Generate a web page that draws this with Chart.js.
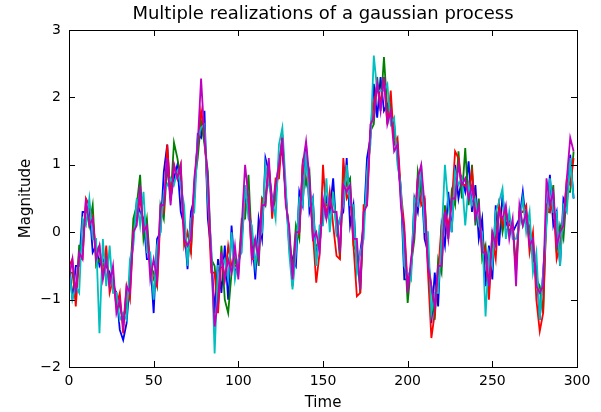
<!DOCTYPE html>
<html>
<head>
<meta charset="utf-8">
<script src="https://cdn.jsdelivr.net/npm/chart.js@4/dist/chart.umd.min.js"></script>
<style>
  html, body { margin: 0; padding: 0; background: #fff; }
  #wrap { width: 601px; height: 412px; }
</style>
</head>
<body>
<div id="wrap"><canvas id="gpChart" width="601" height="412"></canvas></div>
<script>
const timeStep = 2;
const chartTitle = 'Multiple realizations of a gaussian process';
const xTicks = [0, 50, 100, 150, 200, 250, 300];
const yTicks = [-2, -1, 0, 1, 2, 3];

const blueRun = [
  -0.4,-1.0,-0.5,-0.5,0.3,0.3,0.4,-0.3,-0.2,-0.5,
  -0.4,-0.5,-0.6,-0.8,-0.9,-1.45,-1.6,-1.35,-0.7,-0.1,
  0.45,0.3,0.2,-0.4,-0.4,-1.2,-0.1,0.0,0.9,1.3,
  0.5,0.8,1.0,0.3,0.1,-0.55,0.3,0.5,1.45,1.4,
  1.8,0.2,-0.3,-1.2,-0.4,-0.9,-0.2,-1.0,0.1,-0.6,
  -0.5,-0.1,0.5,0.4,0.0,-0.7,0.2,-0.1,1.1,0.9,
  0.5,0.5,1.1,1.2,0.6,-0.2,-0.4,-0.5,0.6,0.4,
  1.3,0.3,0.5,-0.4,0.0,0.2,0.5,0.3,0.8,0.0,
  0.2,0.3,1.1,0.1,0.4,-0.5,-0.3,0.1,1.1,1.4,
  2.2,1.7,2.3,1.8,1.9,1.8,1.6,1.1,0.6,-0.7,
  -0.7,-0.6,0.5,0.3,0.8,-0.1,-0.3,-1.35,-0.6,-1.1,
  0.1,-0.2,0.6,0.0,1.0,0.5,0.8,0.6,1.05,0.3,
  0.7,-0.1,0.2,-0.8,-0.2,-0.7,0.4,-0.2,0.55,0.1,
  0.2,0.0,0.1,0.2,0.6,0.1,0.1,-0.4,-0.5,-1.3,
  -0.6,0.2,0.85,0.1,0.3,-0.5,0.5,0.4,1.15,0.5
];
const greenRun = [
  -0.6,-0.6,-1.0,-0.2,-0.2,0.4,0.1,0.4,-0.5,-0.4,
  -0.5,-0.4,-0.7,-0.7,-1.0,-1.1,-1.3,-1.1,-0.7,0.2,
  0.4,0.85,-0.1,0.2,-0.5,-0.6,-0.8,0.4,0.2,1.0,
  0.5,1.33,1.1,0.8,0.0,-0.2,-0.3,0.7,1.1,1.65,
  1.3,0.9,-0.4,-0.5,-1.1,-0.2,-1.0,-1.2,-0.6,-0.4,
  -0.6,0.2,0.2,0.85,-0.2,-0.1,-0.5,0.5,0.4,1.0,
  0.3,0.5,1.0,1.4,0.5,0.0,-0.6,0.1,-0.1,1.0,
  0.7,0.9,-0.1,-0.2,-0.2,0.4,0.4,0.4,0.5,0.2,
  -0.4,0.9,0.7,0.8,-0.2,-0.3,-0.9,0.2,0.6,1.5,
  1.6,2.3,1.8,2.6,1.8,1.9,1.4,1.3,0.5,-0.1,
  -1.05,-0.5,-0.1,0.9,0.6,0.5,-0.4,-0.8,-1.3,-0.4,
  -0.6,0.4,-0.1,0.6,0.4,1.2,0.5,1.25,0.4,1.0,
  0.1,0.5,-0.4,-0.2,-0.9,0.0,-0.1,0.4,0.0,0.3,
  0.0,0.1,-0.5,0.3,0.1,0.3,0.0,-0.2,-0.7,-0.8,
  -1.2,0.3,0.3,0.7,-0.3,0.1,-0.1,0.6,0.6,1.2
];
const redRun = [
  -0.5,-0.4,-1.1,-0.4,-0.4,0.5,0.4,0.2,-0.3,-0.2,
  -0.7,-0.2,-0.9,-0.7,-1.1,-0.9,-1.5,-0.8,-1.0,0.0,
  0.2,0.5,0.1,0.0,-0.5,-0.7,-0.8,0.2,0.3,1.3,
  0.5,1.0,0.8,1.0,-0.2,0.0,-0.3,0.7,1.3,1.8,
  1.5,0.5,-0.6,-0.6,-1.2,-0.4,-0.7,-0.2,-0.5,-0.5,
  -0.5,0.0,0.4,0.5,-0.4,-0.4,-0.3,0.5,0.5,1.0,
  0.2,0.8,0.8,1.45,0.5,0.0,-0.8,-0.1,0.0,1.0,
  0.8,0.7,0.0,-0.75,-0.3,1.0,0.2,0.6,0.1,-0.35,
  -0.4,1.1,0.5,0.6,-0.2,-0.95,-0.9,0.4,0.4,1.5,
  1.9,2.2,1.9,2.3,1.6,2.1,1.3,1.4,0.6,0.1,
  -0.8,-0.5,0.1,0.8,0.4,0.5,-0.6,-1.57,-1.2,-0.6,
  0.1,0.3,0.1,0.4,1.2,1.1,0.7,0.7,0.6,0.9,
  0.3,0.2,-0.1,-0.3,-1.0,-0.1,-0.4,0.4,0.1,0.3,
  0.1,0.1,-0.6,0.3,0.3,0.4,-0.3,0.0,-1.0,-1.47,
  -1.2,0.4,0.3,0.5,-0.4,-0.2,0.2,0.8,0.7,1.1
];
const cyanRun = [
  -0.5,-1.0,-0.8,-0.9,0.2,0.1,0.5,-0.1,-0.1,-1.5,
  -0.1,-0.8,-0.2,-0.9,-0.9,-1.3,-1.2,-1.3,-0.4,-0.2,
  0.5,0.1,0.6,-0.3,-0.3,-1.0,-0.2,0.0,0.6,0.7,
  0.8,0.7,0.9,0.7,0.4,-0.5,0.2,0.3,1.4,1.55,
  1.6,0.5,-0.2,-1.8,-0.5,-0.5,-0.4,-0.7,0.0,-0.7,
  -0.4,-0.3,0.7,0.2,0.1,-0.5,-0.1,0.0,1.0,0.7,
  0.5,0.2,1.3,1.55,0.7,-0.3,-0.85,-0.3,0.5,0.4,
  1.2,0.4,0.5,-0.5,0.1,0.1,0.8,0.0,0.6,0.0,
  0.2,0.4,1.0,0.4,0.4,-0.6,-0.3,-0.1,0.9,1.3,
  2.62,2.1,2.1,2.1,2.2,1.6,1.7,1.0,0.7,-0.5,
  -0.6,-0.7,0.5,0.4,1.0,0.0,0.0,-1.2,-0.9,-0.9,
  -0.1,1.0,0.4,0.0,0.9,0.7,0.8,0.1,0.7,0.4,
  0.5,0.1,0.0,-1.25,-0.3,-0.5,0.3,0.45,0.65,-0.1,
  0.3,-0.1,-0.1,0.1,0.5,0.0,0.3,-0.6,-0.3,-1.3,
  -0.6,0.1,0.8,0.3,0.3,-0.5,0.4,0.3,1.1,0.5
];
const magentaRun = [
  -0.7,-0.4,-0.9,-0.3,-0.4,0.5,0.1,0.2,-0.4,-0.2,
  -0.7,-0.4,-0.8,-0.5,-1.2,-1.0,-1.4,-0.8,-0.9,0.0,
  0.1,0.7,0.0,0.1,-0.7,-0.4,-0.7,0.4,0.4,1.1,
  0.4,1.0,0.8,1.0,-0.1,-0.2,-0.1,0.8,1.3,2.28,
  1.4,0.8,-0.4,-1.4,-1.0,-0.3,-0.7,-0.4,-0.6,-0.2,
  -0.7,0.1,1.0,0.5,-0.4,-0.1,-0.4,0.4,0.4,1.1,
  0.3,0.7,1.0,1.4,0.4,0.1,-0.7,0.0,0.0,1.0,
  1.35,0.8,-0.1,0.0,-0.3,0.5,0.2,0.5,0.3,0.3,
  -0.3,0.7,0.6,0.7,-0.1,-0.1,-0.85,0.3,0.4,1.6,
  1.7,2.2,1.8,2.3,1.6,1.8,1.2,1.3,0.4,0.0,
  -0.9,-0.4,0.0,0.8,1.0,0.4,-0.5,-0.8,-1.1,-0.5,
  -0.5,0.3,-0.1,0.5,0.5,1.0,0.7,0.8,0.5,0.7,
  0.2,0.4,-0.3,-0.3,-0.8,0.0,-0.2,0.3,0.2,0.4,
  -0.1,0.2,-0.8,0.4,0.1,0.3,-0.2,-0.1,-0.8,-0.9,
  -0.8,0.8,0.4,0.6,-0.2,0.0,0.1,0.8,1.4,1.2
];

// matplotlib classic colours, later runs drawn on top
const runs = [
  { values: blueRun,    color: '#0000ff' },
  { values: greenRun,   color: '#008000' },
  { values: redRun,     color: '#ff0000' },
  { values: cyanRun,    color: '#00bfbf' },
  { values: magentaRun, color: '#bf00bf' }
];

const FONT = "'DejaVu Sans', sans-serif";
const minus = v => String(v).replace('-', '\u2212');

// ---------- frame with inward ticks on all four sides + title over the plot ----------
const frameTicks = {
  id: 'frameTicks',
  afterDatasetsDraw(chart) {
    const { ctx, chartArea: a, scales } = chart;
    const len = 6;
    ctx.save();
    ctx.strokeStyle = '#000';
    ctx.lineWidth = 1;
    ctx.beginPath();
    xTicks.forEach(v => {
      const x = Math.round(scales.x.getPixelForValue(v)) + 0.5;
      ctx.moveTo(x, a.bottom); ctx.lineTo(x, a.bottom - len);
      ctx.moveTo(x, a.top); ctx.lineTo(x, a.top + len);
    });
    yTicks.forEach(v => {
      const y = Math.round(scales.y.getPixelForValue(v)) + 0.5;
      ctx.moveTo(a.left, y); ctx.lineTo(a.left + len, y);
      ctx.moveTo(a.right, y); ctx.lineTo(a.right - len, y);
    });
    ctx.stroke();
    ctx.strokeRect(Math.round(a.left) + 0.5, Math.round(a.top) + 0.5,
                   Math.round(a.right - a.left), Math.round(a.bottom - a.top));

    ctx.fillStyle = '#000';
    ctx.font = '18px ' + FONT;
    ctx.textAlign = 'center';
    ctx.textBaseline = 'middle';
    ctx.fillText(chartTitle, (a.left + a.right) / 2, 14);
    ctx.restore();
  }
};

const datasets = runs.map((r, i) => ({
  data: r.values.map((v, k) => ({ x: k * timeStep, y: v })),
  borderColor: r.color,
  borderWidth: 1.8,
  pointRadius: 0,
  tension: 0,
  fill: false,
  order: runs.length - i
}));

new Chart(document.getElementById('gpChart').getContext('2d'), {
  type: 'line',
  data: { datasets },
  options: {
    responsive: false,
    animation: false,
    layout: { padding: { left: 0, right: 24, top: 30, bottom: 0 } },
    plugins: {
      legend: { display: false },
      tooltip: { enabled: false },
      title: { display: false }
    },
    scales: {
      x: {
        type: 'linear',
        min: 0, max: 300,
        afterBuildTicks: s => { s.ticks = xTicks.map(v => ({ value: v })); },
        afterFit: s => { s.height = 45; },
        grid: { display: false, drawTicks: false },
        border: { display: false },
        ticks: { color: '#000', font: { family: FONT, size: 14 }, padding: 6, maxRotation: 0 },
        title: { display: true, text: 'Time', color: '#000', font: { family: FONT, size: 15 }, padding: { top: 5, bottom: 0 } }
      },
      y: {
        min: -2, max: 3,
        afterBuildTicks: s => { s.ticks = yTicks.map(v => ({ value: v })); },
        afterFit: s => { s.width = 69; },
        grid: { display: false, drawTicks: false },
        border: { display: false },
        ticks: { color: '#000', font: { family: FONT, size: 14 }, padding: 8, callback: v => minus(v) },
        title: { display: true, text: 'Magnitude', color: '#000', font: { family: FONT, size: 15 }, padding: { top: 17, bottom: 0 } }
      }
    }
  },
  plugins: [frameTicks]
});
</script>
</body>
</html>
